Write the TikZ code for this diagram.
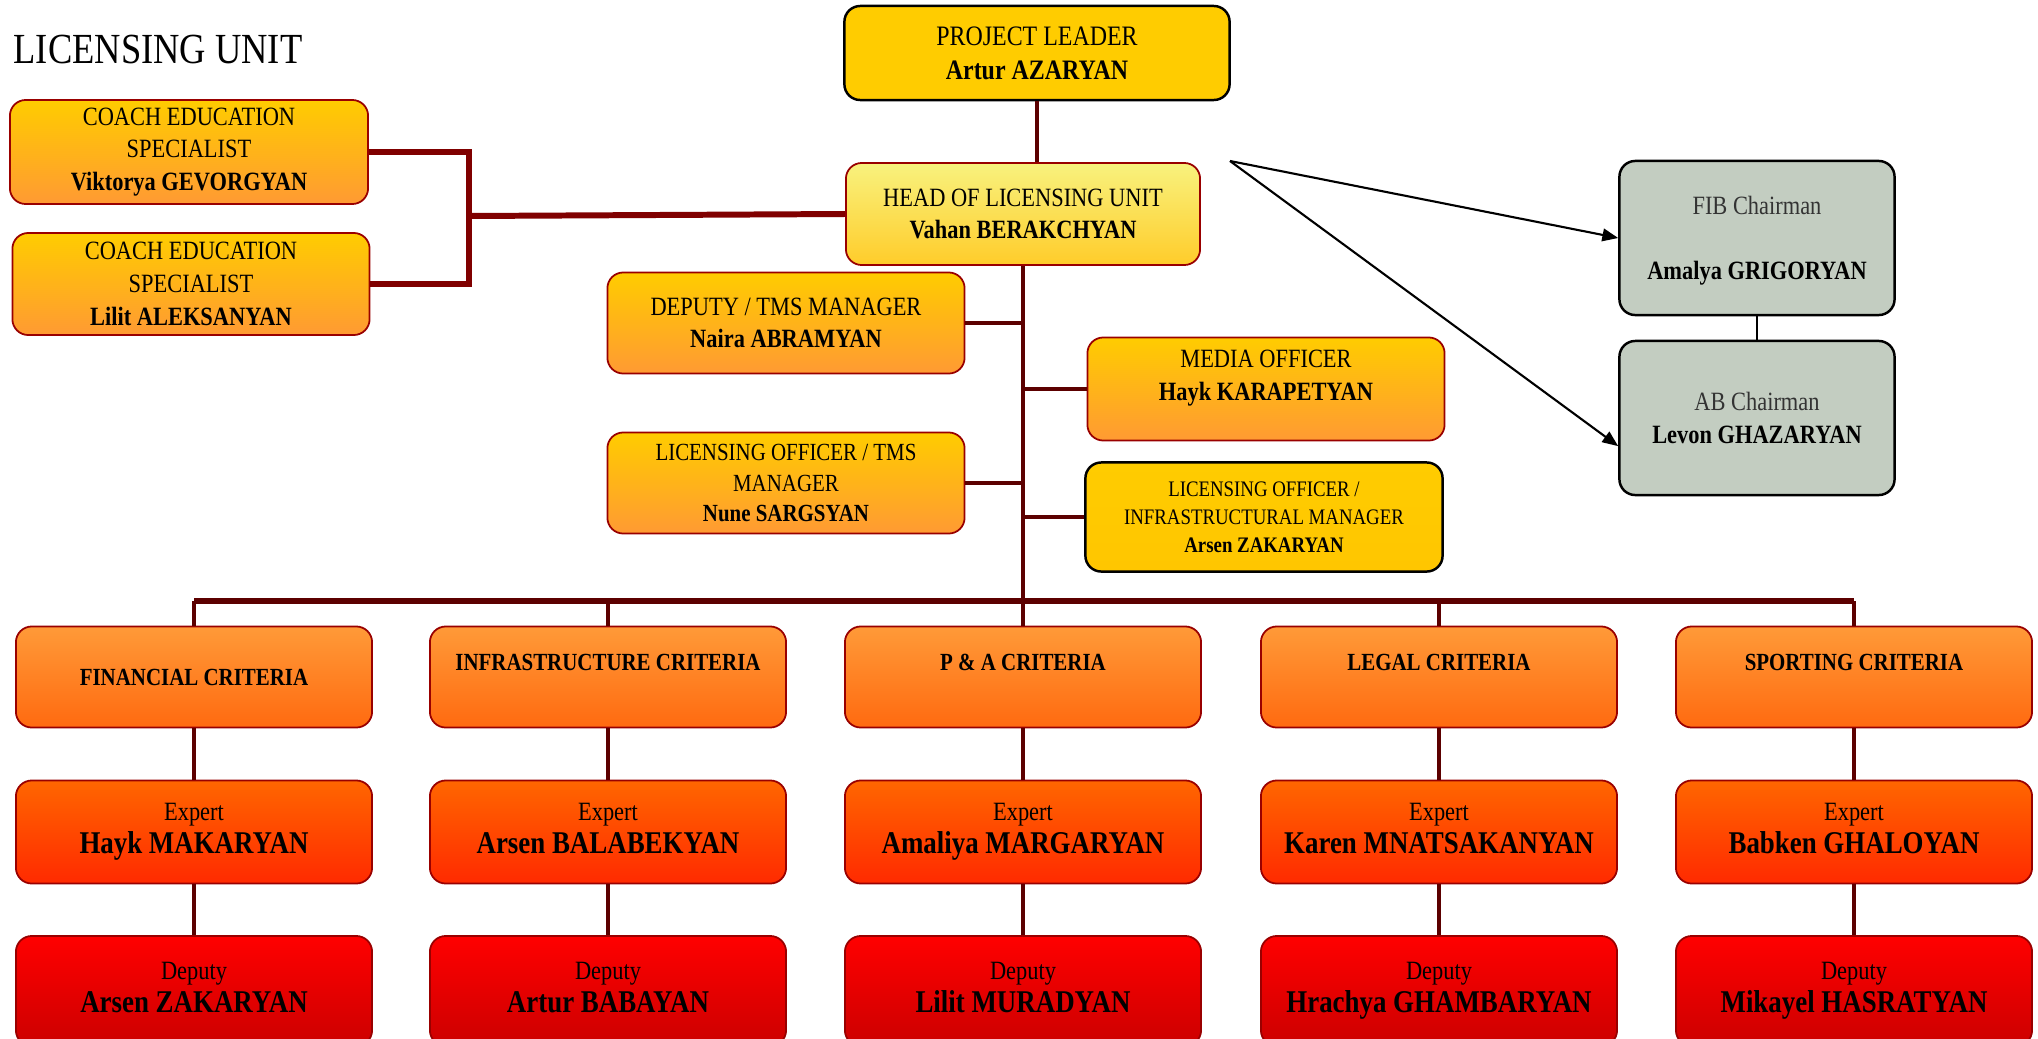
\documentclass[tikz,border=0pt]{standalone}
\usepackage{fontspec}
\setmainfont[FakeStretch=0.85]{Liberation Serif}
\usetikzlibrary{positioning,arrows.meta,calc}
\usepackage{xcolor}
\definecolor{gold}{HTML}{FFCC00}
\definecolor{amber}{HTML}{FF9A33}
\definecolor{paleyellow}{HTML}{F8F27E}
\definecolor{headlow}{HTML}{FFCC2A}
\definecolor{crittop}{HTML}{FF9A38}
\definecolor{critlow}{HTML}{FF6A10}
\definecolor{exptop}{HTML}{FF6600}
\definecolor{explow}{HTML}{FF2A00}
\definecolor{deplow}{HTML}{CC0000}
\definecolor{boardgray}{HTML}{C3CDC1}
\definecolor{boxred}{HTML}{990000}
\definecolor{linkred}{HTML}{5C0000}
\definecolor{coachred}{HTML}{800000}
\newcommand{\persname}[1]{{\fontsize{9}{11}\selectfont\bfseries #1}}

\tikzset{
	unit/.style={draw=boxred,line width=0.5pt,rounded corners=4.5pt,align=center,inner sep=2pt,
		font=\fontsize{7.5}{9.3}\selectfont},
	goldbox/.style={unit,fill=gold,draw=black,line width=0.7pt},
	headbox/.style={unit,top color=paleyellow,bottom color=headlow},
	staffbox/.style={unit,top color=gold,bottom color=amber,minimum width=3.57cm,minimum height=1.02cm},
	critbox/.style={unit,top color=crittop,bottom color=critlow,minimum width=3.56cm,minimum height=1.01cm,
		font=\fontsize{7}{9}\selectfont\bfseries},
	expbox/.style={unit,top color=exptop,bottom color=explow,minimum width=3.56cm,minimum height=1.03cm,text depth=2.2pt},
	depbox/.style={unit,top color=red,bottom color=deplow,minimum width=3.56cm,minimum height=1.1cm,text depth=2.2pt},
	boardbox/.style={unit,fill=boardgray,draw=black,line width=0.7pt,minimum width=2.75cm,minimum height=1.54cm},
	trunk/.style={draw=linkred,line width=1.4pt},
	column/.style={draw=linkred,line width=1.1pt},
	coachlink/.style={draw=coachred,line width=1.7pt},
	boardarrow/.style={draw=black,line width=0.6pt,-{Triangle[length=4.5pt,width=3.6pt]}}
}

\begin{document}
\begin{tikzpicture}[x=0.01cm,y=-0.01cm]
	\useasboundingbox (0,0) rectangle (2038,1039);
	\node[anchor=base west,inner sep=0pt,font=\fontsize{12.2}{14}\selectfont] (title) at (13,63) {LICENSING UNIT};
	\node[goldbox,minimum width=3.85cm,minimum height=0.94cm,font=\fontsize{8}{9.7}\selectfont] (leader) at (1037,53) {PROJECT LEADER\\\textbf{Artur AZARYAN}};
	\node[headbox,minimum width=3.54cm,minimum height=1.02cm] (head) at (1023,214) {HEAD OF LICENSING UNIT\\\textbf{Vahan BERAKCHYAN}};
	\node[staffbox,minimum width=3.58cm,minimum height=1.04cm] (coach1) at (189,152) {COACH EDUCATION\\SPECIALIST\\\textbf{Viktorya GEVORGYAN}};
	\node[staffbox] (coach2) at (191,284) {COACH EDUCATION\\SPECIALIST\\\textbf{Lilit ALEKSANYAN}};
	\node[staffbox,minimum height=1.01cm] (deptms) at (786,323) {DEPUTY / TMS MANAGER\\\textbf{Naira ABRAMYAN}};
	\node[staffbox,minimum height=1.03cm,text depth=8pt] (media) at (1266,389) {MEDIA OFFICER\\\textbf{Hayk KARAPETYAN}};
	\node[staffbox,minimum height=1.01cm,font=\fontsize{7}{8.8}\selectfont] (lictms) at (786,483) {LICENSING OFFICER / TMS\\MANAGER\\\textbf{Nune SARGSYAN}};
	\node[goldbox,top color=gold,bottom color=gold!92!orange,minimum width=3.57cm,minimum height=1.09cm,font=\fontsize{6.3}{8}\selectfont] (licinf) at (1264,517) {LICENSING OFFICER /\\INFRASTRUCTURAL MANAGER\\\textbf{Arsen ZAKARYAN}};
	\node[boardbox,text depth=0pt] (fib) at (1757,238) {\color{black!80}FIB Chairman\\[9pt]\textbf{Amalya GRIGORYAN}};
	\node[boardbox] (ab) at (1757,418) {\color{black!80}AB Chairman\\\textbf{Levon GHAZARYAN}};

	\node[critbox] (fin) at (194,677) {FINANCIAL CRITERIA};
	\node[critbox,text depth=8.5pt] (infra) at (608,677) {INFRASTRUCTURE CRITERIA};
	\node[critbox,text depth=8.5pt] (pa) at (1023,677) {P \& A CRITERIA};
	\node[critbox,text depth=8.5pt] (legal) at (1439,677) {LEGAL CRITERIA};
	\node[critbox,text depth=8.5pt] (sport) at (1854,677) {SPORTING CRITERIA};

	\node[expbox] (finexp) at (194,832) {Expert\\\persname{Hayk MAKARYAN}};
	\node[expbox] (infraexp) at (608,832) {Expert\\\persname{Arsen BALABEKYAN}};
	\node[expbox] (paexp) at (1023,832) {Expert\\\persname{Amaliya MARGARYAN}};
	\node[expbox] (legalexp) at (1439,832) {Expert\\\persname{Karen MNATSAKANYAN}};
	\node[expbox] (sportexp) at (1854,832) {Expert\\\persname{Babken GHALOYAN}};

	\node[depbox] (findep) at (194,991) {Deputy\\\persname{Arsen ZAKARYAN}};
	\node[depbox] (infradep) at (608,991) {Deputy\\\persname{Artur BABAYAN}};
	\node[depbox] (padep) at (1023,991) {Deputy\\\persname{Lilit MURADYAN}};
	\node[depbox] (legaldep) at (1439,991) {Deputy\\\persname{Hrachya GHAMBARYAN}};
	\node[depbox] (sportdep) at (1854,991) {Deputy\\\persname{Mikayel HASRATYAN}};

	\coordinate (bus) at (1023,602);
	\coordinate (coachjoin) at (469,216);
	\coordinate (boardsrc) at (1230,161);

	\draw[trunk] (leader.south) -- (leader.south |- head.north);
	\draw[coachlink] (coach1.east) -- (coach1.east -| coachjoin) |- (coach2.east);
	\draw[coachlink] (coachjoin) -- (head.west);
	\draw[trunk] (head.south) -- (bus);
	\draw[trunk] (deptms.east) -- (deptms.east -| bus);
	\draw[trunk] (lictms.east) -- (lictms.east -| bus);
	\draw[trunk] (media.west) -- (media.west -| bus);
	\draw[trunk] (licinf.west) -- (licinf.west -| bus);
	\draw[trunk,line width=1.7pt] (fin.north) ++(0,-25) -- ($(sport.north)+(0,-25)$);
	\draw[column] (fin.north) -- ++(0,-25);
	\draw[column] (infra.north) -- (infra.north |- bus);
	\draw[column] (pa.north) -- (bus);
	\draw[column] (legal.north) -- (legal.north |- bus);
	\draw[column] (sport.north) -- ++(0,-25);

	\draw[column] (fin.south) -- (finexp.north);
	\draw[column] (infra.south) -- (infraexp.north);
	\draw[column] (pa.south) -- (paexp.north);
	\draw[column] (legal.south) -- (legalexp.north);
	\draw[column] (sport.south) -- (sportexp.north);
	\draw[column] (finexp.south) -- (findep.north);
	\draw[column] (infraexp.south) -- (infradep.north);
	\draw[column] (paexp.south) -- (padep.north);
	\draw[column] (legalexp.south) -- (legaldep.north);
	\draw[column] (sportexp.south) -- (sportdep.north);

	\draw[line width=0.6pt] (fib.south) -- (ab.north);
	\draw[boardarrow] (boardsrc) -- (fib.west);
	\draw[boardarrow] (boardsrc) -- ([yshift=-8pt]ab.west);
\end{tikzpicture}
\end{document}
